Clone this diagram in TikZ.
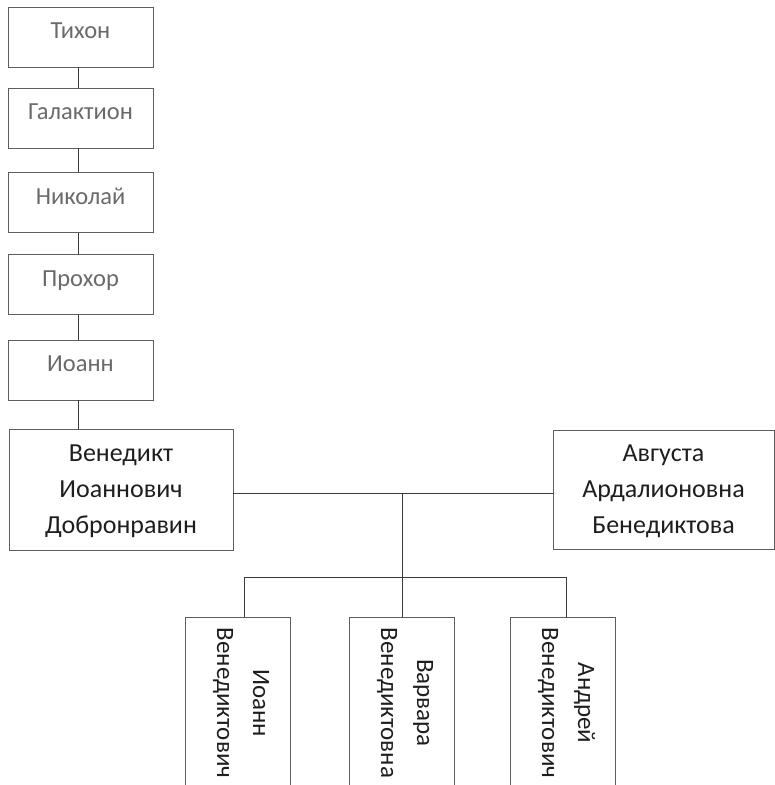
\documentclass[tikz,border=0pt]{standalone}
\usepackage{fontspec}
\setmainfont{Carlito}
\definecolor{boxgray}{HTML}{5E5E5E}
\definecolor{txtgray}{HTML}{6A6A6A}
\definecolor{txtdark}{HTML}{1E1E1E}
\definecolor{linegray}{HTML}{3A3A3A}
\begin{document}
\begin{tikzpicture}[x=1pt,y=-1pt,
  box/.style={draw=boxgray, line width=0.9pt, inner sep=0pt},
  gen/.style={box, minimum width=145pt, minimum height=60pt, text=txtgray,
    font=\fontsize{24.5}{36}\selectfont, text height=18pt, text depth=14.5pt},
  parent/.style={box, align=center, text=txtdark,
    font=\fontsize{26}{36}\selectfont, text height=92pt, text depth=5pt},
  child/.style={box, rotate=-90, minimum width=172pt, minimum height=105pt, align=center, text=txtdark,
    font=\fontsize{25}{36}\selectfont, text height=46pt, text depth=5pt},
  conn/.style={draw=linegray, line width=0.9pt}
]
\useasboundingbox (0,0) rectangle (775,785);
\node[gen] (t1) at (80.5,37) {Тихон};
\node[gen] (t2) at (80.5,118) {Галактион};
\node[gen] (t3) at (80.5,202.5) {Николай};
\node[gen] (t4) at (80.5,284.5) {Прохор};
\node[gen] (t5) at (80.5,370) {Иоанн};
\node[parent, minimum width=224pt, minimum height=121pt] (v) at (121,489.5) {Венедикт\\Иоаннович\\Добронравин};
\node[parent, minimum width=221pt, minimum height=119pt] (a) at (663.5,489.5) {Августа\\Ардалионовна\\Бенедиктова};
\node[child] (c1) at (237.5,703) {Иоанн\\Венедиктович};
\node[child] (c2) at (401.5,703) {Варвара\\Венедиктовна};
\node[child] (c3) at (562.5,703) {Андрей\\Венедиктович};
\foreach \i/\j in {t1/t2,t2/t3,t3/t4,t4/t5,t5/v}
  \draw[conn] ([xshift=-2.5pt]\i.south) -- ([xshift=-2.5pt]\i.south |- \j.north);
\coordinate (m) at (402,493);
\draw[conn] (v.east |- m) -- (a.west |- m);
\draw[conn] (m) -- (m |- c2.west);
\coordinate (b1) at (244,577);
\coordinate (b3) at (566,577);
\draw[conn] (b1 |- c1.west) -- (b1) -- (b3) -- (b3 |- c3.west);
\end{tikzpicture}
\end{document}
